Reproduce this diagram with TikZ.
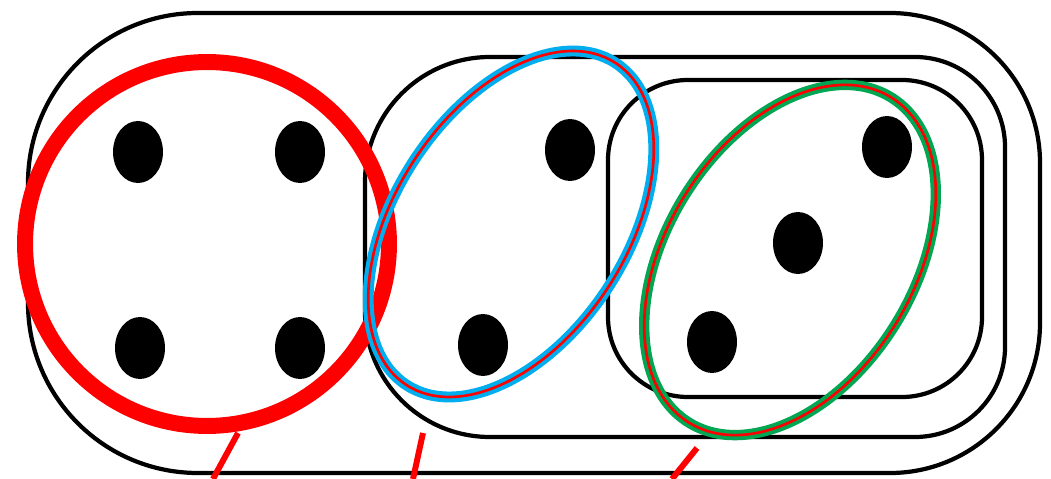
\documentclass[tikz,border=0pt]{standalone}
\usepackage{tikz}
\definecolor{ringblue}{RGB}{0,174,239}
\definecolor{ringgreen}{RGB}{0,166,81}

\begin{document}
\begin{tikzpicture}[x=0.02cm,y=-0.02cm,
    wall/.style={black,line width=2.4pt},
    pointer/.style={red,line width=3.4pt},
    core/.style={red,line width=1.5pt}]
        \useasboundingbox (0,0) rectangle (1051,479);
		%#####################################################
		% the three nested walls
		\draw[wall] (534,13) [rounded corners=3cm] -- (1040,13) -- (1040,473) -- (534,473)
		    [rounded corners=3.4cm] -- (28,473) -- (28,13) -- cycle;
		\draw[wall] (685,57) [rounded corners=1.8cm] -- (1005,57) -- (1005,437) -- (685,437)
		    [rounded corners=2.5cm] -- (365,437) -- (365,57) -- cycle;
		\draw[wall, rounded corners=1.6cm] (608,80) rectangle (982,397);
		%#####################################################
		\foreach \x/\y in {138/152,300/152,140/348,300/348,570/150,483/345,887/147,798/243,712/342}{
		\fill (\x,\y) ellipse [x radius=0.5cm, y radius=0.62cm];
		}
		%#####################################################
		\draw[red,line width=9.1pt] (207,244) circle [radius=3.64cm];
		\draw[ringblue,line width=6.2pt] (511,224) ellipse [x radius=3.84cm, y radius=2.32cm, rotate=57];
		\draw[core] (511,224) ellipse [x radius=3.84cm, y radius=2.32cm, rotate=57];
		\draw[ringgreen,line width=5.9pt] (790,260) ellipse [x radius=3.83cm, y radius=2.47cm, rotate=58];
		\draw[core] (790,260) ellipse [x radius=3.83cm, y radius=2.47cm, rotate=58];

		\draw[pointer] (238,433) -- (213,479);
		\draw[pointer] (423,433) -- (413,479);
		\draw[pointer] (697,448) -- (672,479);
\end{tikzpicture}
\end{document}
